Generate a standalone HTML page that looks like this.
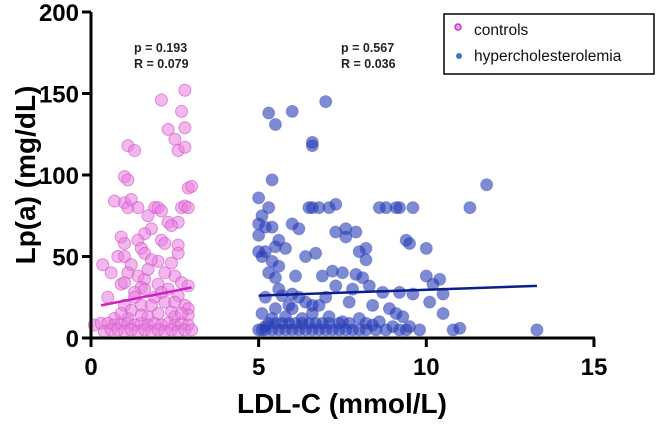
<!DOCTYPE html>
<html><head><meta charset="utf-8"><style>
body{margin:0;background:#fff;width:659px;height:421px;overflow:hidden;font-family:"Liberation Sans",sans-serif}
</style></head><body>
<svg width="659" height="421" id="chart">
<g id="marks"></g>
<g id="axes"></g>
</svg>
<script>
const controlsX=[2.1,2.8,2.7,2.8,2.3,2.5,1.1,1.3,2.6,2.8,1.0,1.1,2.9,3.0,0.7,1.0,1.1,1.2,1.4,1.9,2.0,2.7,2.8,2.9,2.1,1.7,2.3,2.6,1.8,2.4,1.6,0.9,1.0,1.4,2.1,2.2,2.6,1.5,1.6,0.8,1.0,1.2,0.35,2.0,1.8,0.6,1.1,1.4,1.6,2.5,2.7,0.9,1.5,2.3,2.0,1.3,2.6,0.5,1.9,2.2,1.0,1.5,2.8,2.9,1.2,2.4,0.7,1.1,1.7,2.5,2.9,0.1,0.3,0.5,0.7,0.9,1.1,1.3,1.5,1.7,1.9,2.1,2.3,2.5,2.7,2.9,0.4,0.6,0.8,1.0,1.2,1.4,1.6,1.8,2.0,2.2,2.4,2.6,2.8,3.0,1.5,2.0,2.7,0.9,1.8,2.5,1.3,2.1,1.6,2.9,1.0,2.2,1.7,2.4,2.6];
const controlsY=[146,152,139,129,128,122,118,115,115,117,99,97,92,93,84,83,80,85,80,80,80,80,81,80,78,75,71,71,67,69,64,62,58,60,60,58,57,55,52,50,50,45,45,47,48,40,40,38,36,38,34,33,31,30,33,28,26,25,25,22,20,20,20,18,17,16,12,12,13,13,14,8,9,9,8,9,9,8,9,8,9,8,9,8,9,8,4,5,5,4,5,4,5,4,5,4,5,4,5,5,14,15,15,15,20,22,25,28,30,32,34,40,42,46,52];
const hyperX=[5.3,5.5,6.0,7.0,6.6,6.6,5.4,5.0,5.3,5.1,5.0,5.2,5.4,5.0,5.6,5.5,5.8,5.0,5.2,5.1,5.4,5.6,5.3,6.0,6.2,6.4,6.7,5.5,6.1,6.9,6.5,6.6,6.8,7.1,7.3,7.6,7.9,7.3,7.6,8.0,8.2,8.2,8.6,8.8,9.1,9.2,9.6,9.4,9.5,10.0,11.3,11.8,7.2,7.5,7.9,8.1,8.3,8.7,9.2,9.6,10.0,10.2,10.4,10.5,10.1,9.3,10.5,11.0,10.8,13.3,6.2,6.8,5.2,5.6,6.0,7.0,7.7,8.4,8.9,9.1,5.1,5.4,5.8,6.3,6.6,7.1,7.5,8.0,8.6,9.0,9.5,9.8,5.0,5.2,5.4,5.6,5.8,6.0,6.2,6.4,6.6,6.8,7.0,7.2,7.4,7.6,7.8,8.0,8.2,8.5,8.8,9.2,9.4,5.1,5.3,5.5,5.7,5.9,6.1,6.3,6.5,6.7,6.9,7.1,7.4,7.7,8.2,8.4,5.2,5.5,5.9,6.4,6.6,5.7,6.0,7.3,7.8];
const hyperY=[138,131,139,145,120,118,97,86,80,75,70,68,68,63,60,56,55,53,53,50,47,44,40,70,67,50,52,37,38,38,80,80,80,80,82,67,65,65,62,53,48,55,80,80,80,80,80,60,58,55,80,94,41,40,39,37,32,28,28,27,38,33,36,27,22,13,15,6,5,5,25,20,25,30,18,25,22,20,18,15,15,12,13,12,15,13,10,12,10,7,7,5,5,5,5,5,5,5,5,5,5,5,5,5,5,5,5,5,5,5,5,5,5,5,9,9,9,9,9,9,9,9,9,9,9,9,9,8,7,18,20,22,20,26,27,32,30,30];
const controlsFit=[[0.3,20],[3.0,31]];
const hyperFit=[[5.0,26],[13.3,32]];
const xTicks=[0,5,10,15];
const yTicks=[0,50,100,150,200];

const NS="http://www.w3.org/2000/svg";
const xs=v=>91+v*33.53;
const ys=v=>338-v*1.63;
function mk(tag,at,parent){const e=document.createElementNS(NS,tag);for(const k in at)e.setAttribute(k,at[k]);parent.appendChild(e);return e;}
const marks=document.getElementById('marks'),axes=document.getElementById('axes');
controlsX.forEach((x,i)=>{const c=mk('circle',{cx:xs(x),cy:ys(controlsY[i]),r:6,fill:'rgba(232,125,222,0.55)',stroke:'rgba(210,80,200,0.6)','stroke-width':1},marks);

});
hyperX.forEach((x,i)=>{const c=mk('circle',{cx:xs(x),cy:ys(hyperY[i]),r:6,fill:'rgba(40,60,180,0.6)',stroke:'rgba(60,80,200,0.4)','stroke-width':1},marks);

});
let l=mk('line',{x1:xs(controlsFit[0][0]),y1:ys(controlsFit[0][1]),x2:xs(controlsFit[1][0]),y2:ys(controlsFit[1][1]),stroke:'#d020c0','stroke-width':2.5},marks);


l=mk('line',{x1:xs(hyperFit[0][0]),y1:ys(hyperFit[0][1]),x2:xs(hyperFit[1][0]),y2:ys(hyperFit[1][1]),stroke:'#0a1e8c','stroke-width':2.5},marks);


l=mk('line',{x1:91,y1:ys(200),x2:91,y2:339.5,stroke:'#000','stroke-width':3},axes);


l=mk('line',{x1:89.5,y1:338,x2:xs(15)+1,y2:338,stroke:'#000','stroke-width':3},axes);


yTicks.forEach(v=>{mk('line',{x1:82,y1:ys(v),x2:91,y2:ys(v),stroke:'#000','stroke-width':3},axes);
const t=mk('text',{x:79,y:ys(v)+9,'text-anchor':'end','font-size':24,'font-weight':'bold'},axes);t.textContent=v;

});
xTicks.forEach(v=>{mk('line',{x1:xs(v),y1:338,x2:xs(v),y2:347,stroke:'#000','stroke-width':3},axes);
const t=mk('text',{x:xs(v),y:375,'text-anchor':'middle','font-size':24,'font-weight':'bold'},axes);t.textContent=v;

});
</script>
<svg width="659" height="421" style="position:absolute;left:0;top:0">
<text x="342" y="413" text-anchor="middle" font-size="28" font-weight="bold">LDL-C (mmol/L)</text>
<text transform="translate(35,175) rotate(-90)" text-anchor="middle" font-size="28" font-weight="bold">Lp(a) (mg/dL)</text>
<text x="134" y="52" font-size="12.5" font-weight="bold" fill="#222">p = 0.193</text>
<text x="134" y="68" font-size="12.5" font-weight="bold" fill="#222">R = 0.079</text>
<text x="341" y="52" font-size="12.5" font-weight="bold" fill="#222">p = 0.567</text>
<text x="341" y="68" font-size="12.5" font-weight="bold" fill="#222">R = 0.036</text>
<g>
<rect x="444" y="14" width="210" height="60" fill="#fff" stroke="#000" stroke-width="1.5"/>
<circle cx="458" cy="27" r="3" fill="#f0a0f0" stroke="#d030d0" stroke-width="1.5"/>
<text x="474" y="35" font-size="15.5" fill="#111">controls</text>
<circle cx="459" cy="56" r="3" fill="#3a78b8"/>
<text x="474" y="61" font-size="15.5" fill="#111">hypercholesterolemia</text>
</g>
</svg>
</body></html>
